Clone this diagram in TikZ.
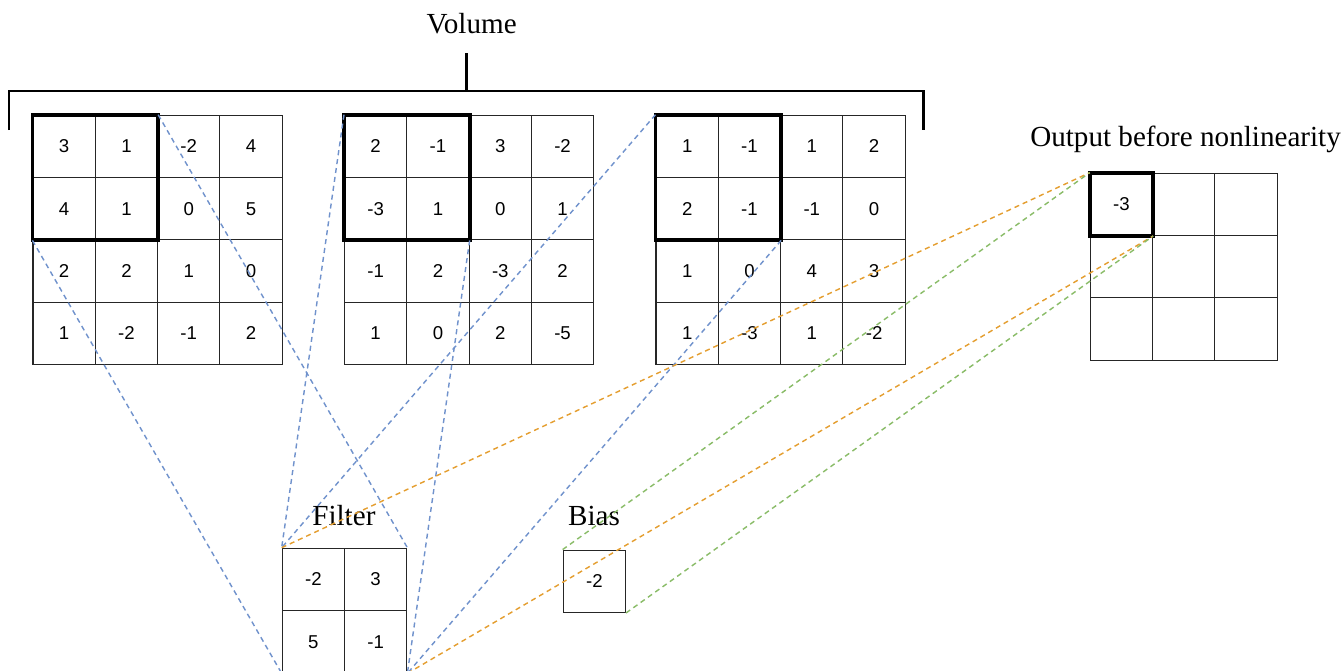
\documentclass[tikz,border=0pt]{standalone}
\usepackage{fontspec}
\setmainfont{Liberation Serif}
\setsansfont{Liberation Sans}
\usetikzlibrary{positioning, calc}

\definecolor{linkblue}{RGB}{112,146,204}
\definecolor{linkorange}{RGB}{228,158,48}
\definecolor{linkgreen}{RGB}{138,188,104}

\begin{document}
\begin{tikzpicture}[
    cell/.style={rectangle, draw=black!85, line width=0.5pt, minimum size=1cm, inner sep=0pt, font=\fontsize{8.5}{10}\sffamily},
    window/.style={draw=black, line width=1.8pt},
    title/.style={font=\fontsize{13.3}{16}\selectfont, anchor=base, inner sep=0pt},
    brace/.style={draw=black, line width=1.2pt},
    link/.style={dash pattern=on 2.3pt off 1.8pt, line width=0.65pt}
]
\useasboundingbox (0,0) rectangle (21.573,-10.770);

% Volume: three 4x4 slices
\foreach \row [count=\r] in {{3,1,-2,4},{4,1,0,5},{2,2,1,0},{1,-2,-1,2}}
  \foreach \v [count=\c] in \row
    \node[cell] (a-\r-\c) at ({0.53+\c-0.5}, {-1.85-\r+0.5}) {\v};
\foreach \row [count=\r] in {{2,-1,3,-2},{-3,1,0,1},{-1,2,-3,2},{1,0,2,-5}}
  \foreach \v [count=\c] in \row
    \node[cell] (b-\r-\c) at ({5.53+\c-0.5}, {-1.85-\r+0.5}) {\v};
\foreach \row [count=\r] in {{1,-1,1,2},{2,-1,-1,0},{1,0,4,3},{1,-3,1,-2}}
  \foreach \v [count=\c] in \row
    \node[cell] (c-\r-\c) at ({10.53+\c-0.5}, {-1.85-\r+0.5}) {\v};

\draw[window] (a-1-1.north west) rectangle (a-2-2.south east);
\draw[window] (b-1-1.north west) rectangle (b-2-2.south east);
\draw[window] (c-1-1.north west) rectangle (c-2-2.south east);

% Bracket and title
\node[title] (vol) at (7.57,-0.53) {Volume};
\draw[brace] (0.144,-2.087) |- (14.82,-1.461) -- (14.82,-2.087);
\draw[brace] (7.49,-1.461) -- (7.49,-0.845);

% Filter
\foreach \row [count=\r] in {{-2,3},{5,-1}}
  \foreach \v [count=\c] in \row
    \node[cell] (f-\r-\c) at ({4.53+\c-0.5}, {-8.8-\r+0.5}) {\v};
\node[title] (ftitle) at (5.52,-8.427) {Filter};

% Bias
\node[cell] (bias) at (9.54,-9.33) {-2};
\node[title] (btitle) at (9.535,-8.427) {Bias};

% Output
\foreach \r in {1,2,3}
  \foreach \c in {1,2,3}
    \node[cell] (o-\r-\c) at ({17.5+\c-0.5}, {-2.78-\r+0.5}) {};
\node[font=\fontsize{8.5}{10}\sffamily] at (o-1-1) {-3};
\draw[window] (o-1-1.north west) rectangle (o-1-1.south east);
\node[title] (otitle) at (19.03,-2.355) {Output before nonlinearity};

% Receptive field links
\draw[link, linkblue] (a-2-1.south west) -- (f-2-1.south west);
\draw[link, linkblue] (a-1-2.north east) -- (f-1-2.north east);
\draw[link, linkblue] (b-1-1.north west) -- (f-1-1.north west);
\draw[link, linkblue] (b-2-2.south east) -- (f-2-2.south east);
\draw[link, linkblue] (c-1-1.north west) -- (f-1-1.north west);
\draw[link, linkblue] (c-2-2.south east) -- (f-2-2.south east);

\draw[link, linkorange] (f-1-1.north west) -- (o-1-1.north west);
\draw[link, linkorange] (f-2-2.south east) -- (o-1-1.south east);
\draw[link, linkgreen] (bias.north west) -- (o-1-1.north west);
\draw[link, linkgreen] (bias.south east) -- (o-1-1.south east);

\end{tikzpicture}
\end{document}
